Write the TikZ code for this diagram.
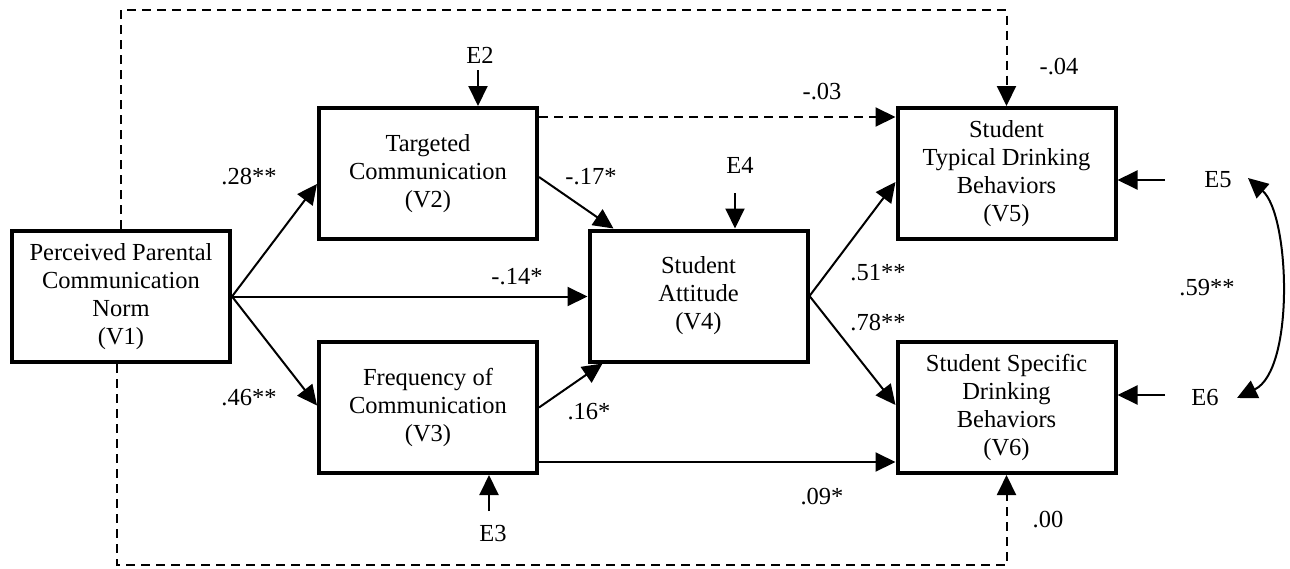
\documentclass[tikz,border=0pt]{standalone}
\usepackage{fontspec}
\setmainfont{Liberation Serif}
\usetikzlibrary{arrows.meta,calc}
\begin{document}
\begin{tikzpicture}[x=1pt,y=-1pt,
  every node/.style={font=\fontsize{24.5}{28}\selectfont},
  box/.style={draw,line width=4pt,minimum width=218pt,minimum height=131pt,inner sep=0pt,align=center},
  lbl/.style={inner sep=0pt},
  conn/.style={line width=2pt,-{Triangle[length=20pt,width=19pt]}},
  dconn/.style={conn,dash pattern=on 9pt off 6pt},
  both/.style={line width=2pt,{Triangle[length=20pt,width=19pt]}-{Triangle[length=20pt,width=19pt]}},
]
\useasboundingbox[fill=white] (0,0) rectangle (1290,568);

% boxes
\node[box] (V1) at (121,296.5) {Perceived Parental\\Communication\\Norm\\(V1)};
\node[box] (V2) at (428,173.5) {Targeted\\Communication\\(V2)};
\node[box] (V3) at (428,407.5) {Frequency of\\Communication\\(V3)};
\node[box] (V4) at (698.5,296) {Student\\Attitude\\(V4)};
\node[box] (V5) at (1006.5,173.5) {Student\\Typical Drinking\\Behaviors\\(V5)};
\node[box] (V6) at (1006.5,407.5) {Student Specific\\Drinking\\Behaviors\\(V6)};

% error terms
\node[lbl] (E2) at (480,55) {E2};
\node[lbl] (E3) at (493,533) {E3};
\node[lbl] (E4) at (740,165) {E4};
\node[lbl] (E5) at (1218,180) {E5};
\node[lbl] (E6) at (1205,398) {E6};

\coordinate (topline) at (0,10);
\coordinate (botline) at (0,565);
\coordinate (e2s) at (478,70);
\coordinate (e3s) at (489,511);
\coordinate (e4s) at (735,193);
\coordinate (e5s) at (1165,180);
\coordinate (e6s) at (1165,395);
\coordinate (e5c) at (1248,178);
\coordinate (e6c) at (1237,398);
\coordinate (v1b) at (117,364);

% paths
\draw[conn] (V1.east) -- ([yshift=-10.5pt]V2.west);
\draw[conn] (V1.east) -- ([yshift=2pt]V3.west);
\draw[conn] (V1.east) -- (V1.east -| V4.west);
\draw[conn] ([yshift=-3.5pt]V2.east) -- ([xshift=-85pt]V4.north);
\draw[conn] (V3.east) -- ([xshift=-96pt]V4.south);
\draw[dconn] ([yshift=56.5pt]V2.east) -- ([yshift=56.5pt]V2.east -| V5.west);
\draw[conn] ([yshift=-54.5pt]V3.east) -- ([yshift=-54.5pt]V3.east -| V6.west);
\draw[conn] (V4.east) -- ([yshift=-8.5pt]V5.west);
\draw[conn] (V4.east) -- ([yshift=2.5pt]V6.west);
\draw[dconn] (V1.north) -- (V1.north |- topline) -| (V5.north);
\draw[dconn] (v1b) -- (v1b |- botline) -| (V6.south);

% error arrows
\draw[conn] (e2s) -- (e2s |- V2.north);
\draw[conn] (e3s) -- (e3s |- V3.south);
\draw[conn] (e4s) -- (e4s |- V4.north);
\draw[conn] (e5s) -- (e5s -| V5.east);
\draw[conn] (e6s) -- (e6s -| V6.east);
\draw[both] (e5c) .. controls +(42,37) and +(58,-28) .. (e6c);

% coefficients
\node (c1) at (249,177) {.28**};
\node (c2) at (591,177) {-.17*};
\node (c3) at (517,277) {-.14*};
\node (c4) at (249,398) {.46**};
\node (c5) at (589,412) {.16*};
\node (c6) at (822,92) {-.03};
\node (c7) at (1059,67) {-.04};
\node (c8) at (878,273) {.51**};
\node (c9) at (878,323) {.78**};
\node (c10) at (822,497) {.09*};
\node (c11) at (1048,520) {.00};
\node (c12) at (1207,288) {.59**};
\end{tikzpicture}
\end{document}
